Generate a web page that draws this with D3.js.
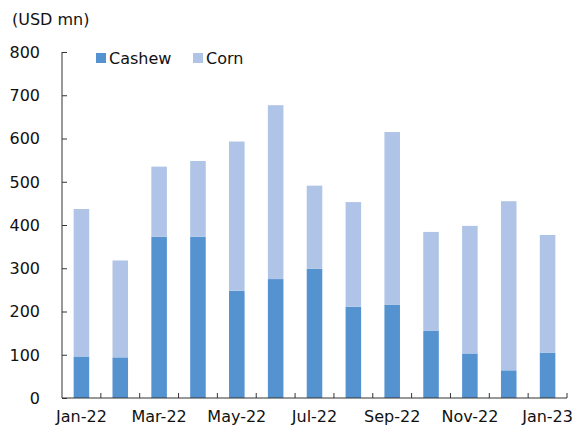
<!DOCTYPE html>
<html>
<head>
<meta charset="utf-8">
<script src="https://cdn.jsdelivr.net/npm/d3@7"></script>
<style>
  body { margin: 0; background: #fff; }
  text { font-family: "DejaVu Sans", Verdana, sans-serif; fill: #111; }
</style>
</head>
<body>
<div class="chart"></div>
<script>
var months = ["Jan-22", "Feb-22", "Mar-22", "Apr-22", "May-22", "Jun-22", "Jul-22",
              "Aug-22", "Sep-22", "Oct-22", "Nov-22", "Dec-22", "Jan-23"];
var cashew = [96, 94, 373, 373, 248, 275, 299, 211, 216, 155, 103, 64, 105];
var corn   = [341, 224, 162, 175, 345, 402, 192, 242, 399, 229, 295, 391, 272];
var yTicks = [0, 100, 200, 300, 400, 500, 600, 700, 800];
var xLabels = ["Jan-22", "Mar-22", "May-22", "Jul-22", "Sep-22", "Nov-22", "Jan-23"];

var width = 577, height = 430;
var margin = {top: 52, right: 10, bottom: 32, left: 62};
var innerW = 567 - margin.left, innerH = 398 - margin.top;

var svg = d3.select(".chart").append("svg")
    .attr("width", width)
    .attr("height", height);

var g = svg.append("g")
    .attr("transform", "translate(" + margin.left + "," + margin.top + ")");

var x = d3.scaleBand().domain(months).range([0, innerW]).paddingInner(0.6).paddingOuter(0.3);
var y = d3.scaleLinear().domain([0, 800]).range([innerH, 0]);

// stack the two series
var rows = months.map(function(m, i) { return {month: m, cashew: cashew[i], corn: corn[i]}; });
var stack = d3.stack().keys(["cashew", "corn"])(rows);
var colors = {cashew: "#5592D0", corn: "#AFC4E6"};

g.selectAll("g.layer")
    .data(stack)
  .enter().append("g")
    .attr("class", "layer")
    .attr("fill", function(d) { return colors[d.key]; })
  .selectAll("rect")
    .data(function(d) { return d; })
  .enter().append("rect")
    .attr("x", function(d) { return x(d.data.month); })
    .attr("y", function(d) { return y(d[1]); })
    .attr("width", x.bandwidth())
    .attr("height", function(d) { return y(d[0]) - y(d[1]); });

// y axis, ticks pointing inward
var yAxis = g.append("g")
    .call(d3.axisRight(y).tickValues(yTicks).tickSize(5).tickFormat(""));
yAxis.select(".domain").attr("stroke", "#333").attr("d", "M0,0V" + innerH);
yAxis.selectAll(".tick line").attr("stroke", "#333");

g.selectAll("text.ylab")
    .data(yTicks)
  .enter().append("text")
    .attr("class", "ylab")
    .attr("x", -22)
    .attr("y", function(d) { return y(d); })
    .attr("dy", "0.36em")
    .attr("text-anchor", "end")
    .style("font-size", "16px")
    .text(function(d) { return d; });

// x axis: ticks between categories, pointing up
var step = x.step();
var boundaries = d3.range(1, months.length).map(function(i) {
  return x(months[i]) - (step - x.bandwidth()) / 2;
});
var xAxis = g.append("g").attr("transform", "translate(0," + innerH + ")");
xAxis.append("line").attr("x1", 0).attr("x2", innerW).attr("stroke", "#333");
xAxis.selectAll("line.t")
    .data(boundaries.concat([innerW]))
  .enter().append("line")
    .attr("class", "t")
    .attr("x1", function(d) { return d; })
    .attr("x2", function(d) { return d; })
    .attr("y1", 0).attr("y2", -5)
    .attr("stroke", "#333");

xAxis.selectAll("text")
    .data(xLabels)
  .enter().append("text")
    .attr("x", function(d) { return x(d) + x.bandwidth() / 2; })
    .attr("y", 24)
    .attr("text-anchor", "middle")
    .style("font-size", "16px")
    .text(function(d) { return d; });

// unit label
svg.append("text")
    .attr("x", 12).attr("y", 25)
    .style("font-size", "16px")
    .text("(USD mn)");

// legend
var legend = svg.append("g").attr("transform", "translate(96,53)");
var legItems = [{key: "cashew", label: "Cashew", dx: 0}, {key: "corn", label: "Corn", dx: 97}];
legItems.forEach(function(it) {
  legend.append("rect").attr("x", it.dx).attr("y", 0).attr("width", 10).attr("height", 10)
      .attr("fill", colors[it.key]);
  legend.append("text").attr("x", it.dx + 13).attr("y", 11)
      .style("font-size", "16px").text(it.label);
});
</script>
</body>
</html>
